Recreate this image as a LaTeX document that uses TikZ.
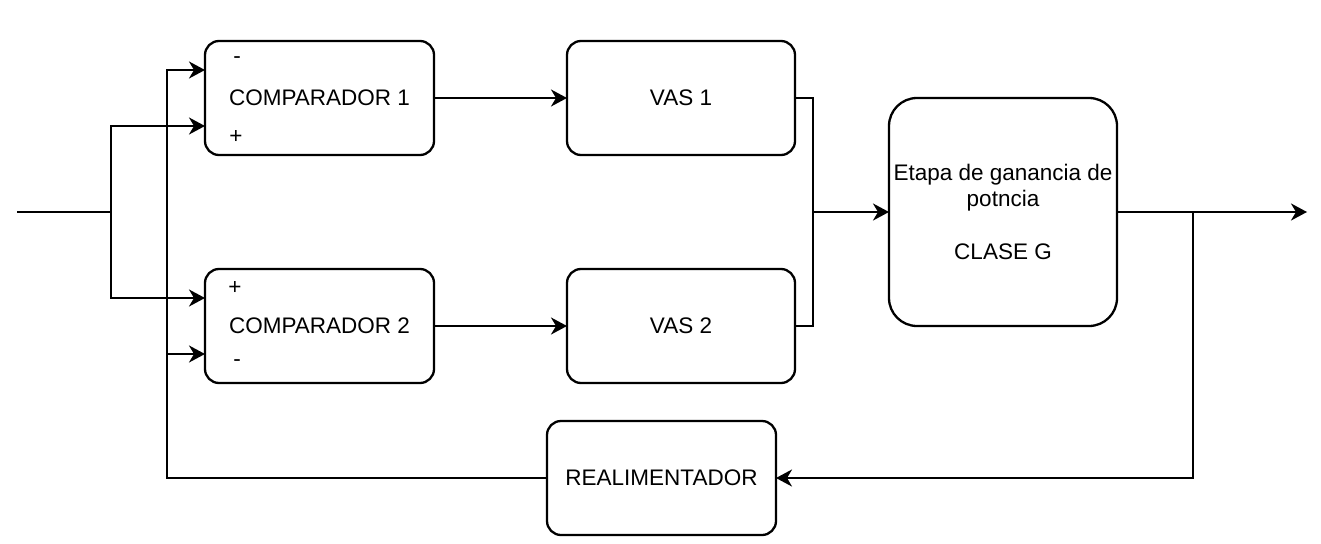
\documentclass[tikz,border=0pt]{standalone}
\usepackage{fontspec}
\setmainfont{Liberation Sans}
\usetikzlibrary{arrows.meta,calc}
\begin{document}
\begin{tikzpicture}[x=1pt,y=-1pt,
  line width=2.3pt,
  blk/.style={draw,rounded corners=14pt,minimum width=229pt,minimum height=114pt,inner sep=0pt,outer sep=0pt,align=center,font=\fontsize{22.5}{26.5}\selectfont},
  sgn/.style={inner sep=0pt,font=\fontsize{22.5}{26.5}\selectfont},
  arr/.style={-{Stealth[length=16pt,width=17pt,inset=5pt]}}]
\useasboundingbox (0,0) rectangle (1321,543);
\node[blk] (comp1) at (319.5,98) {COMPARADOR 1};
\node[blk] (comp2) at (319.5,326) {COMPARADOR 2};
\node[blk,minimum width=228pt] (vas1) at (681,98) {VAS 1};
\node[blk,minimum width=228pt] (vas2) at (681,326) {VAS 2};
\node[blk,minimum width=228pt,minimum height=228pt,rounded corners=28pt] (power) at (1003,212) {Etapa de ganancia de\\potncia\\[26.5pt]CLASE G};
\node[blk] (real) at (661.5,478) {REALIMENTADOR};
\node[sgn] (m1) at (237,60) {-};
\node[sgn] (p1) at (236,137) {+};
\node[sgn] (p2) at (235,288) {+};
\node[sgn] (m2) at (237,363) {-};
\coordinate (in) at (17,212);
\coordinate (j1) at (111,212);
\coordinate (fb) at (167,478);
\coordinate (c1m) at ($(comp1.west)+(0,-28)$);
\coordinate (c1p) at ($(comp1.west)+(0,28)$);
\coordinate (c2p) at ($(comp2.west)+(0,-28)$);
\coordinate (c2m) at ($(comp2.west)+(0,28)$);
\coordinate (mid) at (813,212);
\coordinate (j2) at (1193,212);
\coordinate (out) at (1307,212);
\draw[arr] (in) -- (j1) |- (c1p);
\draw[arr] (j1) |- (c2p);
\draw[arr] (real.west) -- (fb) |- (c1m);
\draw[arr] (fb |- c2m) -- (c2m);
\draw[arr] (comp1) -- (vas1);
\draw[arr] (comp2) -- (vas2);
\draw (vas1.east) -| (mid);
\draw (vas2.east) -| (mid);
\draw[arr] (mid) -- (power.west);
\draw[arr] (power.east) -- (out);
\draw[arr] (j2) |- (real.east);
\end{tikzpicture}
\end{document}
